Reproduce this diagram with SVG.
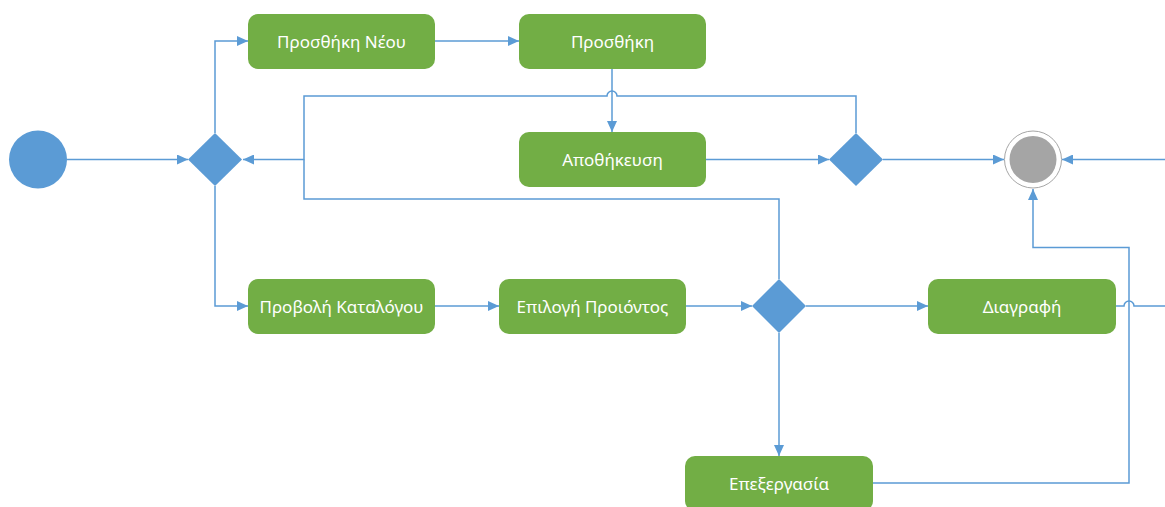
<svg xmlns="http://www.w3.org/2000/svg" width="1165" height="507" viewBox="0 0 1165 507">
  <style>
    .act { fill: #72AE45; }
    .lbl { fill: #FFFFFF; font-family: "Noto Sans", "Open Sans", sans-serif; font-size: 17px; text-anchor: middle; dominant-baseline: central; }
    .dec { fill: #5B9BD5; }
    .flow { fill: none; stroke: #5B9BD5; stroke-width: 1.5; }
    .arr { marker-end: url(#head); }
  </style>
  <defs>
    <marker id="head" markerUnits="userSpaceOnUse" markerWidth="12" markerHeight="10" refX="11" refY="5" orient="auto">
      <path d="M0,0 L11,5 L0,10 z" fill="#5B9BD5"/>
    </marker>
  </defs>
  <rect width="1165" height="507" fill="#FFFFFF"/>

  <!-- connectors -->
  <g id="connectors">
    <path class="flow arr" d="M67,159.5 H188"/>
    <path class="flow arr" d="M215,133 V41 H248"/>
    <path class="flow arr" d="M215,186 V306 H248"/>
    <path class="flow arr" d="M435,41 H519"/>
    <path class="flow arr" d="M612,69 V132"/>
    <path class="flow arr" d="M706,159.5 H829"/>
    <path class="flow arr" d="M883,159.5 H1004"/>
    <path class="flow arr" d="M1165,159.5 H1062"/>
    <path class="flow arr" d="M435,306 H499"/>
    <path class="flow arr" d="M686,306 H752"/>
    <path class="flow arr" d="M806,306 H928"/>
    <path class="flow arr" d="M779,333 V456"/>
    <!-- loop back from the upper decision, hopping over the Προσθήκη line -->
    <path class="flow arr" d="M856,133 V96 H617 A5,5 0 0 0 607,96 H304 V159.5 H243"/>
    <!-- loop back from the lower decision -->
    <path class="flow" d="M779,279 V199 H304 V159.5"/>
    <!-- Επεξεργασία to the final node -->
    <path class="flow arr" d="M872,483 H1129 V247.5 H1033 V189"/>
    <!-- Διαγραφή outgoing, hopping over the vertical -->
    <path class="flow" d="M1116,306 H1124 A5,5 0 0 1 1134,306 H1165"/>
  </g>

  <!-- initial node -->
  <g id="start">
    <circle cx="38" cy="159.5" r="29" fill="#5B9BD5"/>
  </g>

  <!-- decision nodes -->
  <g id="decision-main">
    <path class="dec" d="M215,133 L242,159.5 L215,186 L188,159.5 z"/>
  </g>
  <g id="decision-save">
    <path class="dec" d="M856,133 L883,159.5 L856,186 L829,159.5 z"/>
  </g>
  <g id="decision-product">
    <path class="dec" d="M779,279 L806,306 L779,333 L752,306 z"/>
  </g>

  <!-- final node -->
  <g id="end">
    <circle cx="1033" cy="159.5" r="28.5" fill="#FFFFFF" stroke="#A6A6A6" stroke-width="1"/>
    <circle cx="1033" cy="159.5" r="23.5" fill="#A5A5A5"/>
  </g>

  <!-- activities -->
  <g id="add-new">
    <rect class="act" x="248" y="14" width="187" height="55" rx="10"/>
    <text class="lbl" x="341.5" y="41.5">Προσθήκη Νέου</text>
  </g>
  <g id="add">
    <rect class="act" x="519" y="14" width="187" height="55" rx="10"/>
    <text class="lbl" x="612.5" y="41.5">Προσθήκη</text>
  </g>
  <g id="save">
    <rect class="act" x="519" y="132" width="187" height="55" rx="10"/>
    <text class="lbl" x="612.5" y="159.5">Αποθήκευση</text>
  </g>
  <g id="catalogue">
    <rect class="act" x="248" y="279" width="187" height="55" rx="10"/>
    <text class="lbl" x="341.5" y="306">Προβολή Καταλόγου</text>
  </g>
  <g id="select-product">
    <rect class="act" x="499" y="279" width="187" height="55" rx="10"/>
    <text class="lbl" x="592.5" y="306">Επιλογή Προιόντος</text>
  </g>
  <g id="delete">
    <rect class="act" x="928" y="279" width="188" height="55" rx="10"/>
    <text class="lbl" x="1022" y="306">Διαγραφή</text>
  </g>
  <g id="edit">
    <rect class="act" x="685" y="456" width="188" height="55" rx="10"/>
    <text class="lbl" x="779" y="483">Επεξεργασία</text>
  </g>
</svg>
